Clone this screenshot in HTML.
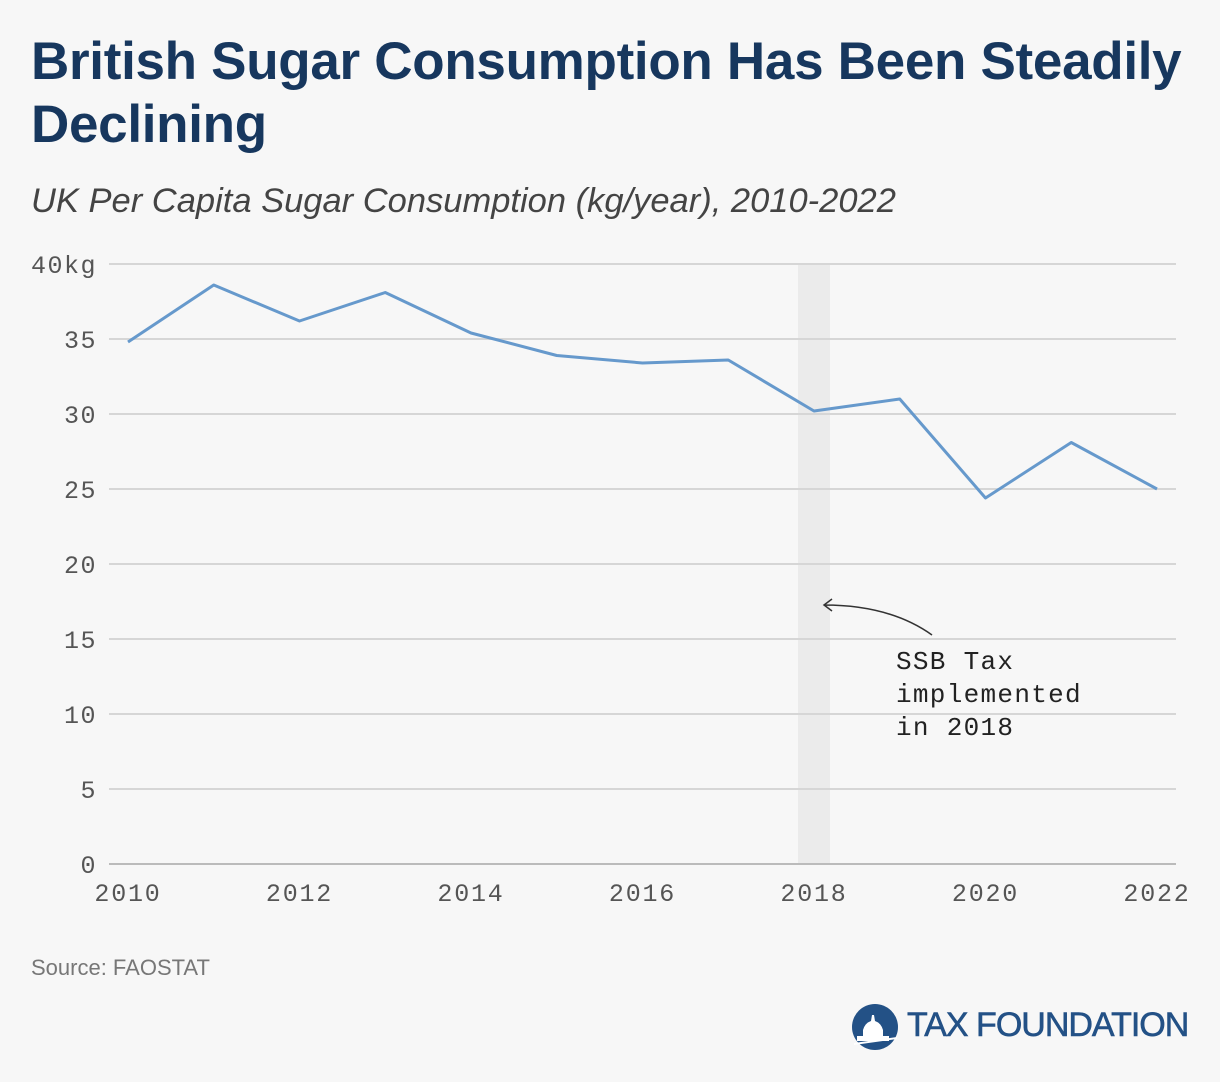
<!DOCTYPE html>
<html><head><meta charset="utf-8"><style>
body{margin:0;background:#f7f7f7;width:1220px;height:1082px;overflow:hidden;font-family:"Liberation Sans",sans-serif;position:relative}
h1{position:absolute;left:31px;top:30px;margin:0;font-size:53px;line-height:63px;color:#17375e;font-weight:bold;width:1185px;letter-spacing:-0.3px}
.sub{position:absolute;left:31px;top:182px;font-size:34.5px;font-style:italic;color:#444}
.src{position:absolute;left:31px;top:955px;font-size:22px;color:#777}
svg{position:absolute;left:0;top:0}
</style></head><body>
<h1>British Sugar Consumption Has Been Steadily Declining</h1>
<div class="sub">UK Per Capita Sugar Consumption (kg/year), 2010-2022</div>
<div class="src">Source: FAOSTAT</div>
<svg id="chart" width="1220" height="1082"></svg>
<div style="position:absolute;left:851px;top:1003px;height:50px;">
<svg width="50" height="50" style="position:absolute;left:0;top:0"><circle cx="24" cy="24" r="23" fill="#235186"/><path d="M6 38 L6 33 L12 33 L12 27 Q14 20 20 18 L21 12 L23 12 L24 18 Q30 20 32 27 L32 33 L38 33 L38 38 Z" fill="#fff"/><path d="M3 40 L46 34 L46 36 L3 42Z" fill="#fff"/></svg>
<span style="position:absolute;left:56px;top:3px;font-size:34px;color:#235186;white-space:nowrap;letter-spacing:-1px;-webkit-text-stroke:0.6px #235186">TAX FOUNDATION</span>
</div>
<script>
const years=[2010,2011,2012,2013,2014,2015,2016,2017,2018,2019,2020,2021,2022];
const values=[34.8,38.6,36.2,38.1,35.4,33.9,33.4,33.6,30.2,31.0,24.4,28.1,25.0];
const yTicks=[0,5,10,15,20,25,30,35,40];
const xTicks=[2010,2012,2014,2016,2018,2020,2022];
const shadeYear=2018;
const NS="http://www.w3.org/2000/svg";
const svg=document.getElementById('chart');
const x=v=>128+(v-2010)*(1157-128)/12;
const y=v=>864-v*15;
const MONO='"Liberation Mono","DejaVu Sans Mono",monospace';
function mk(t,a){const e=document.createElementNS(NS,t);for(const k in a)e.setAttribute(k,a[k]);svg.appendChild(e);return e;}
const band=mk('rect',{x:x(shadeYear)-16,y:264,width:32,height:600,fill:'#ebebeb'});


yTicks.forEach(t=>{
 const l=mk('line',{x1:109,x2:1176,y1:y(t),y2:y(t),stroke:t===0?'#bbb':'#d6d6d6','stroke-width':2});
 
 
 const tx=mk('text',{x:97,y:y(t)+9,'text-anchor':'end','font-size':25,'letter-spacing':1.5,fill:'#555','font-family':MONO});
 tx.textContent=t===40?'40kg':t;
 
 
});
xTicks.forEach(t=>{
 const tx=mk('text',{x:x(t),y:901,'text-anchor':'middle','font-size':25,'letter-spacing':1.8,fill:'#555','font-family':MONO});
 tx.textContent=t;
 
 
});
const line=mk('polyline',{points:years.map((yr,i)=>x(yr)+','+y(values[i])).join(' '),fill:'none',stroke:'#6699cc','stroke-width':3,'stroke-linejoin':'round'});


const ar=mk('path',{d:'M932 635 Q890 605 824 605 M832 599 L824 605 L832 611',fill:'none',stroke:'#333','stroke-width':1.5});


const ann=mk('text',{x:896,y:669,'font-size':26,'letter-spacing':1.3,fill:'#222','font-family':MONO});


['SSB Tax','implemented','in 2018'].forEach((s,i)=>{const ts=document.createElementNS(NS,'tspan');ts.setAttribute('x',896);ts.setAttribute('dy',i?33:0);ts.textContent=s;ann.appendChild(ts);});
</script>
</body></html>
